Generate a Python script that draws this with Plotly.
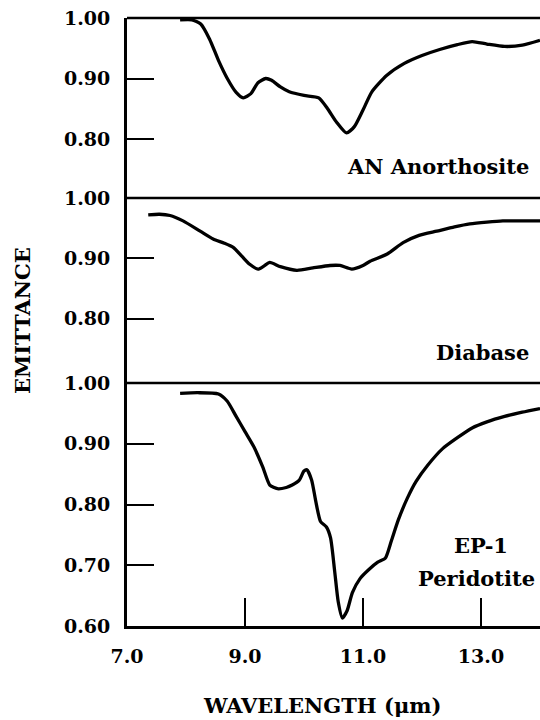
import plotly.graph_objects as go

# ---- data (wavelength in micrometres, emittance) ----
an_wl = [7.90, 8.10, 8.25, 8.40, 8.55, 8.70, 8.85, 8.97, 9.10, 9.22, 9.35, 9.45, 9.60, 9.75,
         10.00, 10.25, 10.40, 10.55, 10.72, 10.85, 11.00, 11.15, 11.40, 11.70, 12.00, 12.30,
         12.60, 12.85, 13.10, 13.40, 13.70, 14.00]
an_em = [0.997, 0.997, 0.990, 0.965, 0.930, 0.900, 0.877, 0.868, 0.875, 0.893, 0.900, 0.897,
         0.886, 0.878, 0.872, 0.868, 0.850, 0.828, 0.810, 0.820, 0.848, 0.878, 0.905, 0.925,
         0.938, 0.948, 0.956, 0.961, 0.957, 0.953, 0.955, 0.963]

db_wl = [7.36, 7.55, 7.73, 7.95, 8.24, 8.46, 8.65, 8.80, 8.95, 9.08, 9.22, 9.32, 9.42, 9.60,
         9.88, 10.15, 10.44, 10.61, 10.81, 11.00, 11.12, 11.41, 11.68, 11.95, 12.25, 12.55,
         12.81, 13.10, 13.37, 13.70, 14.00]
db_em = [0.972, 0.973, 0.971, 0.962, 0.945, 0.932, 0.925, 0.918, 0.903, 0.890, 0.882, 0.887,
         0.893, 0.886, 0.880, 0.884, 0.888, 0.888, 0.882, 0.888, 0.895, 0.907, 0.926, 0.938,
         0.945, 0.952, 0.957, 0.960, 0.962, 0.962, 0.962]

ep_wl = [7.90, 8.20, 8.55, 8.70, 8.85, 9.00, 9.15, 9.30, 9.42, 9.55, 9.70, 9.80, 9.92, 10.00,
         10.05, 10.13, 10.20, 10.28, 10.38, 10.45, 10.52, 10.58, 10.65, 10.73, 10.82, 10.95,
         11.10, 11.25, 11.38, 11.48, 11.60, 11.75, 11.90, 12.10, 12.35, 12.60, 12.85, 13.10,
         13.40, 13.70, 14.00]
ep_em = [0.983, 0.984, 0.982, 0.970, 0.945, 0.920, 0.895, 0.862, 0.832, 0.826, 0.828, 0.832,
         0.840, 0.855, 0.857, 0.840, 0.805, 0.772, 0.763, 0.745, 0.690, 0.640, 0.613, 0.625,
         0.655, 0.678, 0.693, 0.705, 0.712, 0.740, 0.775, 0.810, 0.838, 0.865, 0.892, 0.910,
         0.926, 0.936, 0.945, 0.952, 0.958]

x_ticks = [7.0, 9.0, 11.0, 13.0]
x_tick_text = ["7.0", "9.0", "11.0", "13.0"]
top_ticks = [0.80, 0.90, 1.00]
mid_ticks = [0.80, 0.90, 1.00]
bot_ticks = [0.60, 0.70, 0.80, 0.90, 1.00]

FONT = "DejaVu Serif"
LINE = dict(color="black", width=3.3, shape="spline", smoothing=0.6)

fig = go.Figure()
fig.add_trace(go.Scatter(x=an_wl, y=an_em, mode="lines", line=LINE, yaxis="y3", showlegend=False))
fig.add_trace(go.Scatter(x=db_wl, y=db_em, mode="lines", line=LINE, yaxis="y2", showlegend=False))
fig.add_trace(go.Scatter(x=ep_wl, y=ep_em, mode="lines", line=LINE, yaxis="y", showlegend=False))

tickfont = dict(family=FONT, size=19, color="black", weight="bold")

def yax(domain, rng, ticks):
    return dict(domain=domain, range=rng, anchor="x", tickvals=ticks,
                ticktext=[f"{t:.2f}" for t in ticks], ticks="inside", ticklen=27,
                tickwidth=2, tickcolor="black", showline=True, linewidth=3,
                linecolor="black", showgrid=False, zeroline=False, tickfont=tickfont,
                ticklabelstandoff=10)

d_bot = 243 / 608
d_mid = 428 / 608

fig.update_layout(
    width=540, height=720,
    margin=dict(l=127, r=0, t=18, b=94),
    paper_bgcolor="white", plot_bgcolor="white",
    xaxis=dict(range=[7.0, 14.0], tickvals=x_ticks, ticktext=x_tick_text, ticks="inside",
               ticklen=28, tickwidth=2, tickcolor="black", showline=True, linewidth=3,
               linecolor="black", showgrid=False, zeroline=False, tickfont=tickfont,
               anchor="y", ticklabelstandoff=11),
    yaxis=yax([0, d_bot], [0.60, 1.00], bot_ticks),
    yaxis2=yax([d_bot, d_mid], [0.693, 1.00], mid_ticks),
    yaxis3=yax([d_mid, 1.0], [0.7025, 1.00], top_ticks),
)

for yy in [1.0, d_mid, d_bot]:
    fig.add_shape(type="line", xref="paper", yref="paper", x0=0, x1=1, y0=yy, y1=yy,
                  line=dict(color="black", width=2.5))

lab = dict(family=FONT, size=21, color="black", weight="bold")
fig.add_annotation(text="AN Anorthosite", xref="paper", yref="paper", x=(531 - 127) / 413,
                   y=(626 - 167) / 608, xanchor="right", yanchor="middle", showarrow=False, font=lab)
fig.add_annotation(text="Diabase", xref="paper", yref="paper", x=(531 - 127) / 413,
                   y=(626 - 352) / 608, xanchor="right", yanchor="middle", showarrow=False, font=lab)
fig.add_annotation(text="EP-1", xref="paper", yref="paper", x=(481 - 127) / 413,
                   y=(626 - 545) / 608, xanchor="center", yanchor="middle", showarrow=False,
                   font=dict(family=FONT, size=21, color="black", weight="bold"))
fig.add_annotation(text="Peridotite", xref="paper", yref="paper", x=(476 - 127) / 413,
                   y=(626 - 578) / 608, xanchor="center", yanchor="middle", showarrow=False,
                   font=dict(family=FONT, size=21, color="black", weight="bold"))
fig.add_annotation(text="EMITTANCE", xref="paper", yref="paper", x=(22 - 127) / 413,
                   y=(626 - 321) / 608, xanchor="center", yanchor="middle", textangle=-90,
                   showarrow=False, font=dict(family=FONT, size=21, color="black", weight="bold"))
fig.add_annotation(text="WAVELENGTH (μm)", xref="paper", yref="paper", x=(322 - 127) / 413,
                   y=(626 - 705) / 608, xanchor="center", yanchor="middle",
                   showarrow=False, font=dict(family=FONT, size=21, color="black", weight="bold"))

fig.write_html("out.html")
